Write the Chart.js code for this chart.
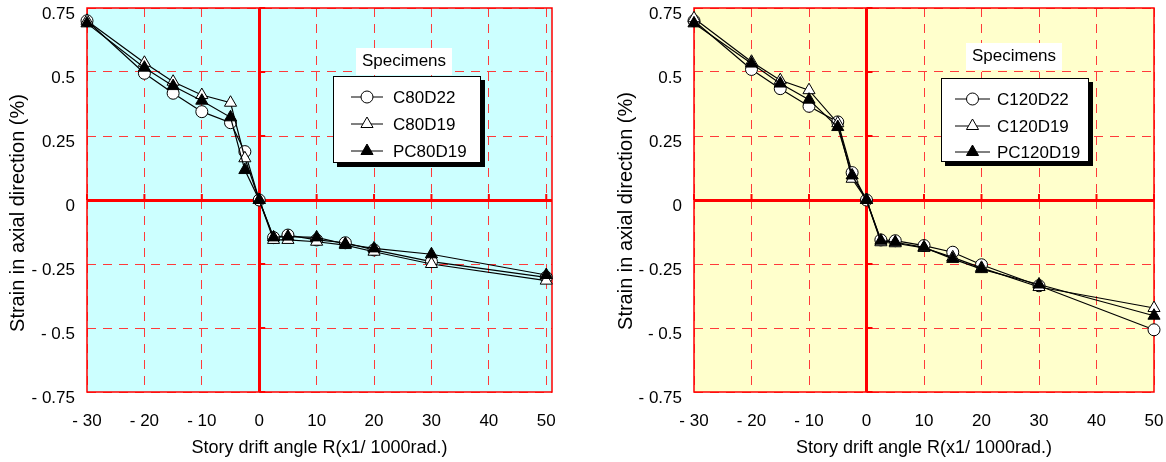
<!DOCTYPE html>
<html>
<head>
<meta charset="utf-8">
<script src="https://cdn.jsdelivr.net/npm/chart.js@4/dist/chart.umd.min.js"></script>
<style>
  html, body { margin: 0; padding: 0; background: #fff; }
  #wrap { position: relative; width: 1166px; height: 462px; }
  canvas { position: absolute; top: 0; }
  #chartLeft { left: 0; }
  #chartRight { left: 583px; }
</style>
</head>
<body>
<div id="wrap">
  <canvas id="chartLeft" width="583" height="462"></canvas>
  <canvas id="chartRight" width="583" height="462"></canvas>
</div>
<script>
// story drift angle R (x1/1000 rad.) for every loading step
const driftAngle = [-30, -20, -15, -10, -5, -2.5, 0, 2.5, 5, 10, 15, 20, 30, 50];

// strain in axial direction (%) - C80 group (left)
const c80d22  = [0.70, 0.495, 0.417, 0.345, 0.302, 0.189, 0, -0.147, -0.137, -0.156, -0.167, -0.195, -0.241, -0.302];
const c80d19  = [0.70, 0.536, 0.462, 0.410, 0.380, 0.163, 0, -0.156, -0.156, -0.163, -0.176, -0.202, -0.250, -0.315];
const pc80d19 = [0.69, 0.517, 0.445, 0.388, 0.323, 0.117, 0, -0.146, -0.143, -0.146, -0.172, -0.189, -0.212, -0.293];

// strain in axial direction (%) - C120 group (right)
const c120d22  = [0.70, 0.510, 0.435, 0.366, 0.305, 0.107, 0, -0.156, -0.159, -0.178, -0.204, -0.253, -0.335, -0.507];
const c120d19  = [0.71, 0.540, 0.468, 0.429, 0.300, 0.083, 0, -0.165, -0.169, -0.187, -0.224, -0.265, -0.340, -0.422];
const pc120d19 = [0.69, 0.533, 0.455, 0.392, 0.285, 0.096, 0, -0.159, -0.165, -0.185, -0.230, -0.270, -0.330, -0.452];

const xTicks = [-30, -20, -10, 0, 10, 20, 30, 40, 50];
const yTicks = [-0.75, -0.5, -0.25, 0, 0.25, 0.5, 0.75];

const FONT_FAMILY = "'Liberation Sans', Arial, Helvetica, sans-serif";
const Y_TITLE = 'Strain in axial direction (%)';

// negative labels are printed as "- 0.25" in the original
const fmt = v => (v < 0 ? '- ' + Math.abs(v) : String(v));

const isZero = ctx => ctx.tick && ctx.tick.value === 0;

// plot background, frame, little marks on the zero axes, y title and the boxed legend
const plotDecor = {
  id: 'plotDecor',
  beforeDraw(chart, args, opts) {
    const { ctx, chartArea: a } = chart;
    ctx.save();
    ctx.fillStyle = opts.background;
    ctx.fillRect(a.left, a.top, a.right - a.left, a.bottom - a.top);
    ctx.restore();
  },
  beforeDatasetsDraw(chart) {
    const { ctx, chartArea: a, scales: { x, y } } = chart;
    const x0 = x.getPixelForValue(0);
    const y0 = y.getPixelForValue(0);
    ctx.save();
    ctx.strokeStyle = '#ff0000';
    ctx.lineWidth = 2;
    xTicks.forEach(v => {
      const px = x.getPixelForValue(v);
      ctx.beginPath(); ctx.moveTo(px, y0); ctx.lineTo(px, y0 - 6); ctx.stroke();
    });
    yTicks.forEach(v => {
      const py = y.getPixelForValue(v);
      ctx.beginPath(); ctx.moveTo(x0, py); ctx.lineTo(x0 + 6, py); ctx.stroke();
    });
    ctx.lineWidth = 1.5;
    ctx.strokeRect(a.left, a.top, a.right - a.left, a.bottom - a.top);
    ctx.restore();
  },
  afterDraw(chart, args, opts) {
    const { ctx } = chart;
    ctx.save();

    // y title sits a little below the middle of the plot in the original
    ctx.translate(opts.yTitle.x, opts.yTitle.y);
    ctx.rotate(-Math.PI / 2);
    ctx.fillStyle = '#000';
    ctx.font = '20px ' + FONT_FAMILY;
    ctx.textAlign = 'center';
    ctx.textBaseline = 'middle';
    ctx.fillText(Y_TITLE, 0, 0);
    ctx.setTransform(1, 0, 0, 1, 0, 0);

    const L = opts.legend;
    // shadowed box
    ctx.fillStyle = '#000';
    ctx.fillRect(L.x + 4, L.y + 4, L.w, L.h);
    ctx.fillStyle = '#fff';
    ctx.fillRect(L.x, L.y, L.w, L.h);
    ctx.strokeStyle = '#000';
    ctx.lineWidth = 1;
    ctx.strokeRect(L.x + 0.5, L.y + 0.5, L.w - 1, L.h - 1);
    // title on its own white patch
    ctx.fillStyle = '#fff';
    ctx.fillRect(L.titleX - 48, L.titleY - 18, 96, 27);
    ctx.fillStyle = '#000';
    ctx.font = '17px ' + FONT_FAMILY;
    ctx.textAlign = 'center';
    ctx.textBaseline = 'alphabetic';
    ctx.fillText('Specimens', L.titleX, L.titleY);
    // rows
    chart.data.datasets.forEach((ds, i) => {
      const ry = L.rows[i];
      ctx.strokeStyle = '#000';
      ctx.lineWidth = 1;
      ctx.beginPath(); ctx.moveTo(L.lineX1, ry); ctx.lineTo(L.lineX2, ry); ctx.stroke();
      ctx.fillStyle = ds.pointBackgroundColor;
      Chart.helpers.drawPoint(ctx, { pointStyle: ds.pointStyle, radius: ds.pointRadius, rotation: 0, borderWidth: 1 },
        (L.lineX1 + L.lineX2) / 2, ry);
      ctx.fillStyle = '#000';
      ctx.textAlign = 'left';
      ctx.textBaseline = 'middle';
      ctx.fillText(ds.label, L.textX, ry + 1);
    });
    ctx.restore();
  }
};

function makeSeries(label, values, style, fill, radius, order) {
  return {
    label,
    data: driftAngle.map((x, i) => ({ x, y: values[i] })),
    borderColor: '#000',
    borderWidth: 1.2,
    pointStyle: style,
    pointRadius: radius,
    pointBackgroundColor: fill,
    pointBorderColor: '#000',
    pointBorderWidth: 1,
    tension: 0,
    clip: false,
    order
  };
}

function buildChart(canvasId, cfg) {
  return new Chart(document.getElementById(canvasId), {
    type: 'line',
    data: {
      datasets: [
        makeSeries(cfg.names[0], cfg.values[0], 'circle', '#fff', 6, 2),
        makeSeries(cfg.names[1], cfg.values[1], 'triangle', '#fff', 7, 1),
        makeSeries(cfg.names[2], cfg.values[2], 'triangle', '#000', 7, 0)
      ]
    },
    plugins: [plotDecor],
    options: {
      responsive: false,
      animation: false,
      events: [],
      layout: { padding: { left: 0, top: 8, right: cfg.padRight, bottom: 0 } },
      plugins: {
        legend: { display: false },
        tooltip: { enabled: false },
        plotDecor: { background: cfg.background, legend: cfg.legend, yTitle: cfg.yTitle }
      },
      scales: {
        x: {
          type: 'linear',
          min: -30,
          max: cfg.xMax,
          afterBuildTicks: scale => { scale.ticks = xTicks.map(v => ({ value: v })); },
          afterFit: scale => { scale.height = 70; scale.paddingLeft = 0; scale.paddingRight = 0; },
          grid: {
            color: ctx => (isZero(ctx) ? '#ff0000' : '#ff3a3a'),
            lineWidth: ctx => (isZero(ctx) ? 3 : 1),
            drawTicks: false
          },
          border: { display: false, dash: ctx => (ctx.tick && ctx.tick.value !== 0 ? [9, 7] : []) },
          ticks: {
            autoSkip: false,
            maxRotation: 0,
            padding: 19,
            color: '#000',
            font: { family: FONT_FAMILY, size: 17 },
            callback: v => fmt(v)
          },
          title: {
            display: true,
            text: 'Story drift angle R(x1/ 1000rad.)',
            color: '#000',
            font: { family: FONT_FAMILY, size: 18 },
            padding: { top: 3, bottom: 3 }
          }
        },
        y: {
          type: 'linear',
          min: -0.75,
          max: 0.75,
          afterBuildTicks: scale => { scale.ticks = yTicks.map(v => ({ value: v })); },
          afterFit: scale => { scale.width = cfg.axisWidth; scale.paddingTop = 0; scale.paddingBottom = 0; },
          grid: {
            color: ctx => (isZero(ctx) ? '#ff0000' : '#ff3a3a'),
            lineWidth: ctx => (isZero(ctx) ? 3 : 1),
            drawTicks: false
          },
          border: { display: false, dash: ctx => (ctx.tick && ctx.tick.value !== 0 ? [9, 7] : []) },
          ticks: {
            autoSkip: false,
            padding: 12,
            labelOffset: 6,
            color: '#000',
            font: { family: FONT_FAMILY, size: 17 },
            callback: v => fmt(v)
          },
          title: { display: false }
        }
      }
    }
  });
}

buildChart('chartLeft', {
  names: ['C80D22', 'C80D19', 'PC80D19'],
  values: [c80d22, c80d19, pc80d19],
  background: '#ccffff',
  xMax: 51,
  padRight: 31,
  axisWidth: 87,
  yTitle: { x: 18, y: 213 },
  legend: { x: 333, y: 76, w: 148, h: 87, titleX: 404, titleY: 66,
            lineX1: 351, lineX2: 383, textX: 393, rows: [97, 124, 151] }
});

buildChart('chartRight', {
  names: ['C120D22', 'C120D19', 'PC120D19'],
  values: [c120d22, c120d19, pc120d19],
  background: '#ffffcc',
  xMax: 50,
  padRight: 12,
  axisWidth: 111,
  yTitle: { x: 43, y: 211 },
  legend: { x: 358, y: 78, w: 148, h: 84, titleX: 431, titleY: 61,
            lineX1: 372, lineX2: 407, textX: 414, rows: [99, 126, 152] }
});
</script>
</body>
</html>
